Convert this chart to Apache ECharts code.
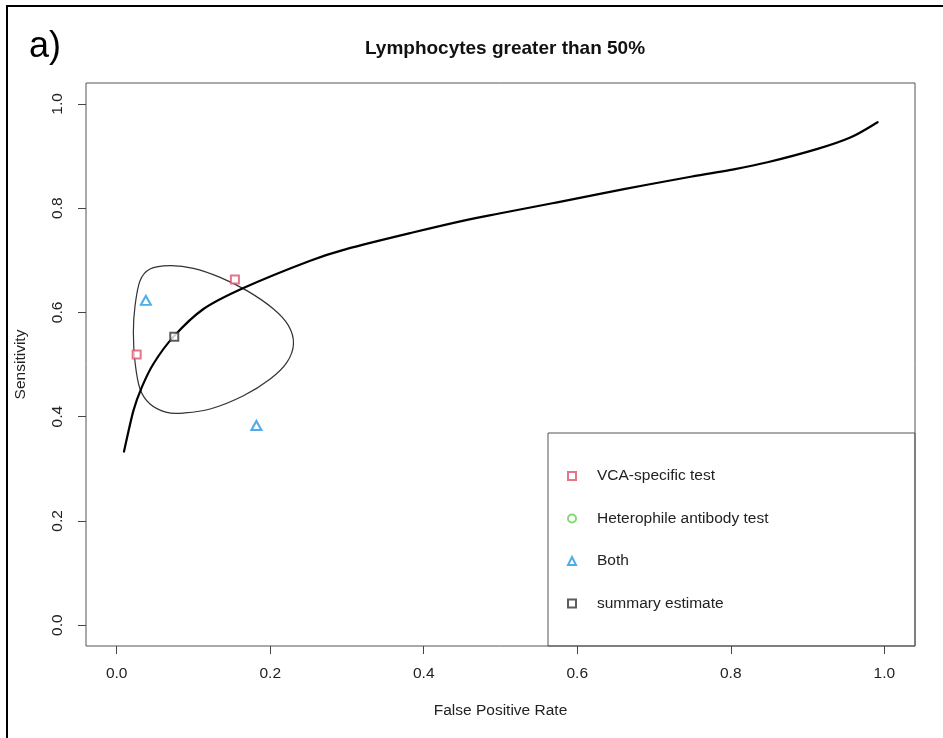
<!DOCTYPE html>
<html>
<head>
<meta charset="utf-8">
<title>Lymphocytes greater than 50%</title>
<script src="https://cdn.jsdelivr.net/npm/echarts@6/dist/echarts.min.js"></script>
<style>
  html, body { margin: 0; padding: 0; background: #fff; }
  #chart { width: 943px; height: 738px; }
</style>
</head>
<body>
<div id="chart"></div>
<script>
// Study estimates: [false positive rate, sensitivity]
const vcaSpecific = [[0.026, 0.519], [0.154, 0.663]];
const heterophile = [];
const bothTests = [[0.038, 0.623], [0.182, 0.383]];
const summaryEstimate = [[0.075, 0.553]];

// Summary ROC curve
const srocFpr = [0.0095, 0.0217, 0.0326, 0.0477, 0.0738, 0.1130, 0.1651, 0.2521, 0.3000, 0.3869,
                 0.4565, 0.5000, 0.5739, 0.6608, 0.7478, 0.7999, 0.8478, 0.9130, 0.9564, 0.9913];
const srocSens = [0.333, 0.411, 0.456, 0.501, 0.553, 0.6065, 0.6468, 0.6992, 0.7217, 0.7536,
                  0.7774, 0.7902, 0.8111, 0.8365, 0.8601, 0.8733, 0.8879, 0.9136, 0.9359, 0.9647];

// 95% confidence region around the summary estimate (closed outline)
const regionFpr = [0.0695, 0.0999, 0.1347, 0.1696, 0.2043, 0.2238, 0.2303, 0.2217, 0.2000, 0.1651,
                   0.1217, 0.0869, 0.0652, 0.0434, 0.0304, 0.0239, 0.0217, 0.0239, 0.0304, 0.0434];
const regionSens = [0.6896, 0.6845, 0.6672, 0.6417, 0.6065, 0.5745, 0.5393, 0.5040, 0.4722, 0.4401,
                    0.4146, 0.4069, 0.4081, 0.4242, 0.4530, 0.5040, 0.5616, 0.6129, 0.6608, 0.6833];

const tickValues = [0, 0.2, 0.4, 0.6, 0.8, 1.0];
const legendNames = ['VCA-specific test', 'Heterophile antibody test', 'Both', 'summary estimate'];

const FONT = '"Liberation Sans", Arial, Helvetica, sans-serif';
const zip = (a, b) => a.map((v, i) => [v, b[i]]);

// Draws one smooth (Catmull-Rom) path through all points of a series,
// mapped to pixels by the chart's own axes.
function smoothCurve(xs, ys, closed, stroke, lineWidth) {
  return function (params, api) {
    if (params.dataIndex !== 0) return null;
    const pts = xs.map((x, i) => api.coord([x, ys[i]]));
    const n = pts.length;
    const at = i => closed ? pts[(i + n) % n] : pts[Math.max(0, Math.min(n - 1, i))];
    const f = v => v.toFixed(2);
    let d = 'M' + f(pts[0][0]) + ',' + f(pts[0][1]);
    const segs = closed ? n : n - 1;
    for (let i = 0; i < segs; i++) {
      const p0 = at(i - 1), p1 = at(i), p2 = at(i + 1), p3 = at(i + 2);
      const c1 = [p1[0] + (p2[0] - p0[0]) / 6, p1[1] + (p2[1] - p0[1]) / 6];
      const c2 = [p2[0] - (p3[0] - p1[0]) / 6, p2[1] - (p3[1] - p1[1]) / 6];
      d += ' C' + f(c1[0]) + ',' + f(c1[1]) + ' ' + f(c2[0]) + ',' + f(c2[1]) + ' ' + f(p2[0]) + ',' + f(p2[1]);
    }
    if (closed) d += ' Z';
    return {
      type: 'path',
      shape: { pathData: d },
      style: { fill: 'none', stroke: stroke, lineWidth: lineWidth, lineJoin: 'round', lineCap: 'round' }
    };
  };
}

const chart = echarts.init(document.getElementById('chart'), null, { renderer: 'canvas' });

const axisCommon = {
  type: 'value',
  min: -0.04,
  max: 1.04,
  splitLine: { show: false },
  axisLine: { show: false, onZero: false },
  axisTick: { show: true, inside: false, length: 8, customValues: tickValues,
              lineStyle: { color: '#444', width: 1 } },
  axisLabel: {
    customValues: tickValues,
    formatter: v => v.toFixed(1),
    fontFamily: FONT, fontSize: 15.5, color: '#222', margin: 20
  },
  nameLocation: 'middle',
  nameTextStyle: { fontFamily: FONT, fontSize: 15.5, color: '#222' }
};

const option = {
  animation: false,
  backgroundColor: '#fff',
  title: {
    text: 'Lymphocytes greater than 50%',
    left: 500,
    top: 34,
    textAlign: 'center',
    textStyle: { fontFamily: FONT, fontSize: 19, fontWeight: 'bold', color: '#111' }
  },
  grid: {
    left: 86, top: 83, right: 28, bottom: 92,
    show: true, borderColor: '#555', borderWidth: 1, backgroundColor: 'transparent'
  },
  xAxis: Object.assign({}, axisCommon, { name: 'False Positive Rate', nameGap: 57 }),
  yAxis: Object.assign({}, axisCommon, {
    name: 'Sensitivity', nameGap: 57,
    axisLabel: Object.assign({}, axisCommon.axisLabel, { rotate: 90 })
  }),
  legend: {
    orient: 'vertical',
    left: 567, top: 467,
    padding: 0,
    itemWidth: 8, itemHeight: 8,
    itemGap: 24.5,
    data: legendNames,
    textStyle: { fontFamily: FONT, fontSize: 15.5, color: '#222', lineHeight: 18, padding: [0, 0, 0, 16] }
  },
  graphic: [
    // outer frame
    { type: 'rect', shape: { x: 7, y: 6, width: 960, height: 760 },
      style: { fill: 'none', stroke: '#000', lineWidth: 2 }, silent: true },
    // panel letter
    { type: 'text', left: 29, top: 29,
      style: { text: 'a)', font: '36px ' + FONT, fill: '#000' } },
    // legend box
    { type: 'rect', shape: { x: 548, y: 433, width: 367, height: 213 },
      style: { fill: 'none', stroke: '#555', lineWidth: 1 }, silent: true }
  ],
  series: [
    {
      name: 'confidence region', type: 'custom', data: zip(regionFpr, regionSens),
      renderItem: smoothCurve(regionFpr, regionSens, true, '#333', 1.2), z: 2, silent: true
    },
    {
      name: 'SROC', type: 'custom', data: zip(srocFpr, srocSens),
      renderItem: smoothCurve(srocFpr, srocSens, false, '#000', 2.2), z: 3, silent: true
    },
    {
      name: legendNames[0], type: 'scatter', data: vcaSpecific,
      symbol: 'emptyRect', symbolSize: 8,
      itemStyle: { color: '#DF536B', borderWidth: 1.2 }, z: 4
    },
    {
      name: legendNames[1], type: 'scatter', data: heterophile,
      symbol: 'emptyCircle', symbolSize: 8,
      itemStyle: { color: '#61D04F', borderWidth: 1.2 }, z: 4
    },
    {
      name: legendNames[2], type: 'scatter', data: bothTests,
      symbol: 'emptyTriangle', symbolSize: [10, 9],
      itemStyle: { color: '#2297E6', borderWidth: 1.2 }, z: 4
    },
    {
      name: legendNames[3], type: 'scatter', data: summaryEstimate,
      symbol: 'emptyRect', symbolSize: 8,
      itemStyle: { color: '#333', borderWidth: 1.2 }, z: 5
    }
  ]
};

chart.setOption(option);
</script>
</body>
</html>
